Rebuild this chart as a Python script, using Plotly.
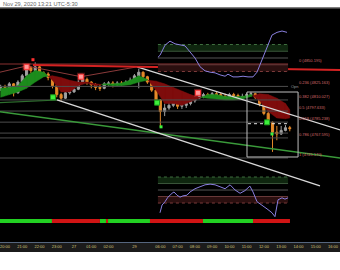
import plotly.graph_objects as go

# ---------------- data (time axis: hours since 20:00, trading-hour index) ----------------
TICK_VALS = [0, 1, 2, 3, 4, 5, 6, 7.5, 9, 10, 11, 12, 13, 14, 15, 16, 17, 18, 19]
TICK_TEXT = ["20:00", "21:00", "22:00", "23:00", "27", "01:00", "02:00", "29", "06:00",
             "07:00", "08:00", "09:00", "10:00", "11:00", "12:00", "13:00", "14:00", "15:00", "16:00"]

OPEN = [4822, 4824, 4823, 4828, 4818, 4830, 4837, 4846, 4843, 4847, 4840, 4839, 4835, 4826, 4816, 4812,
        4818, 4819, 4822, 4830, 4833, 4830, 4827, 4824, 4823, 4828, 4829, 4827, 4829, 4828, 4830, 4832,
        4837, 4841, 4836, 4830, 4821, 4810, 4797, 4801, 4804, 4808, 4803, 4804, 4806, 4809, 4812, 4814,
        4816, 4815, 4817, 4816, 4814, 4813, 4816, 4815, 4812, 4814, 4816, 4817, 4813, 4806, 4795, 4785,
        4774, 4772, 4776, 4779]
HIGH = [4827, 4827, 4830, 4829, 4832, 4839, 4849, 4848, 4852, 4848, 4842, 4841, 4836, 4827, 4818, 4820,
        4822, 4824, 4832, 4836, 4835, 4831, 4829, 4827, 4830, 4831, 4831, 4831, 4831, 4832, 4835, 4839,
        4845, 4842, 4837, 4831, 4822, 4811, 4806, 4808, 4810, 4809, 4807, 4808, 4811, 4814, 4819, 4818,
        4818, 4819, 4819, 4818, 4817, 4818, 4818, 4817, 4817, 4818, 4819, 4818, 4814, 4807, 4797, 4786,
        4781, 4781, 4782, 4781]
LOW = [4820, 4821, 4822, 4814, 4817, 4829, 4835, 4840, 4841, 4838, 4836, 4832, 4823, 4813, 4809, 4811,
       4816, 4818, 4821, 4828, 4827, 4823, 4821, 4820, 4822, 4826, 4824, 4826, 4826, 4827, 4829, 4831,
       4823, 4833, 4828, 4819, 4807, 4780, 4792, 4799, 4802, 4800, 4800, 4801, 4804, 4807, 4811, 4812,
       4813, 4813, 4813, 4812, 4811, 4812, 4813, 4810, 4811, 4812, 4814, 4811, 4803, 4793, 4783, 4752,
       4765, 4771, 4775, 4775]
CLOSE = [4824, 4823, 4828, 4818, 4830, 4837, 4846, 4843, 4847, 4840, 4839, 4835, 4826, 4816, 4812, 4818,
         4819, 4822, 4830, 4833, 4830, 4827, 4824, 4823, 4828, 4829, 4827, 4829, 4828, 4830, 4832, 4837,
         4841, 4836, 4830, 4821, 4810, 4797, 4801, 4804, 4808, 4803, 4804, 4806, 4809, 4812, 4814, 4816,
         4815, 4817, 4816, 4814, 4813, 4816, 4815, 4812, 4814, 4816, 4817, 4813, 4806, 4795, 4785, 4774,
         4772, 4776, 4779, 4778]
CANDLE_T = [-0.25 + 0.25 * i for i in range(len(CLOSE))]

RIBBON_T = [-0.25, 0.25, 0.75, 1.25, 1.75, 2.25, 2.75, 3.25, 3.75, 4.25, 4.75, 5.25, 5.75, 6.25, 6.75,
            7.25, 7.75, 8.25, 8.75, 9.25, 9.75, 10.25, 10.75, 11.25, 11.75, 12.25, 12.75, 13.25, 13.75,
            14.25, 14.75, 15.25, 15.75, 16.25, 16.5]
RIBBON_FAST = [4823, 4824, 4826, 4837, 4843, 4841, 4832, 4819, 4819, 4826, 4829, 4826, 4828, 4828, 4829,
               4832, 4837, 4833, 4821, 4806, 4806, 4804, 4808, 4812, 4816, 4816, 4814, 4814, 4814, 4816,
               4809, 4797, 4790, 4789, 4790]
RIBBON_SLOW = [4813, 4816, 4819, 4823, 4830, 4836, 4837, 4835, 4832, 4830, 4830, 4828, 4827, 4826, 4826,
               4827, 4830, 4832, 4831, 4828, 4824, 4820, 4816, 4813, 4812, 4811, 4810, 4810, 4811, 4814,
               4817, 4816, 4812, 4806, 4799]

FIB_RATIO = ["0", "0.236", "0.382", "0.5", "0.618", "0.786", "1"]
FIB_PRICE = [4850.195, 4825.163, 4810.027, 4797.633, 4785.238, 4767.595, 4745.170]
FIB_T = [-0.3, 16.4]
EXTRA_LEVEL_P = [4773]

RED_TREND_T, RED_TREND_P = [1.62, 19.5], [4849, 4843.5]
ZIGZAG_T, ZIGZAG_P = [-0.3, 1.25, 4.4, 7.65], [4841, 4848, 4836, 4847]
UP_WHITE_T, UP_WHITE_P = [7.65, 19.5], [4847, 4776]
LOW_WHITE_T, LOW_WHITE_P = [3.01, 18.25], [4810, 4714]
GREEN_LONG_T, GREEN_LONG_P = [-0.3, 19.5], [4797, 4745]
GREEN_SHORT_T, GREEN_SHORT_P = [-0.3, 3.07], [4807, 4810]

BOX_T, BOX_P = [14.02, 16.98], [4818.9, 4746.3]
DOTTED_T, DOTTED_P = [14.08, 16.4], [4783.5, 4783.5]

RED_SIG_T, RED_SIG_P = [1.25, 4.4, 11.18], [4847, 4836, 4818]
RED_DOT_T, RED_DOT_P = [1.62], [4855]
GREEN_SIG_T, GREEN_SIG_P = [2.78, 8.81, 15.18], [4813, 4807, 4785]
GREEN_DOT_T, GREEN_DOT_P = [9.04, 15.47], [4780, 4772]

OSC1_T = [8.86, 8.98, 9.27, 9.56, 9.85, 10.14, 10.43, 10.72, 11.01, 11.30, 11.59, 11.88, 12.17, 12.46,
          12.75, 12.92, 13.21, 13.50, 13.79, 14.08, 14.37, 14.60, 14.89, 15.18, 15.47, 15.76, 16.05, 16.34]
OSC1_V = [51, 54, 69, 75, 71, 69, 68, 59, 50, 37, 31, 29, 28, 25, 23, 26, 22, 22, 23, 22, 22, 29, 47, 66,
          84, 88, 90, 88]
OSC2_T = [8.98, 9.10, 9.27, 9.44, 9.68, 9.79, 9.97, 10.14, 10.31, 10.54, 10.72, 11.01, 11.30, 11.59, 11.88,
          12.17, 12.46, 12.75, 13.04, 13.33, 13.62, 13.90, 14.19, 14.37, 14.60, 14.89, 15.18, 15.47, 15.64,
          15.82, 16.05, 16.22, 16.40]
OSC2_V = [15, 27, 32, 39, 45, 47, 42, 39, 41, 42, 47, 52, 55, 58, 59, 58, 55, 52, 58, 50, 45, 49, 56, 47,
          32, 27, 21, 15, 9, 35, 38, 36, 38]
OSC_LEVELS = [70, 60, 50, 40, 30]
OSC_T = [8.86, 16.4]

TREND_START = [-0.3, 2.72, 5.50, 5.85, 5.97, 8.40, 11.47, 14.37]
TREND_END = [2.72, 5.50, 5.85, 5.97, 8.40, 11.47, 14.37, 16.51]
TREND_UP = [True, False, True, False, True, False, True, False]

# ---------------- figure ----------------
W, H = 340, 270
def py(px):
    return 1 - px / H

fig = go.Figure()

# ribbon polygons
gx, gy, rx, ry = [], [], [], []
for k in range(len(RIBBON_T) - 1):
    t0, t1 = RIBBON_T[k], RIBBON_T[k + 1]
    f0, f1 = RIBBON_FAST[k], RIBBON_FAST[k + 1]
    s0, s1 = RIBBON_SLOW[k], RIBBON_SLOW[k + 1]
    d0, d1 = f0 - s0, f1 - s1
    if d0 * d1 < 0:
        r = d0 / (d0 - d1)
        tc = t0 + r * (t1 - t0)
        yc = f0 + r * (f1 - f0)
        pieces = [((t0, f0, s0), (tc, yc, yc), d0), ((tc, yc, yc), (t1, f1, s1), d1)]
    else:
        pieces = [((t0, f0, s0), (t1, f1, s1), d0 if d0 != 0 else d1)]
    for a, b, d in pieces:
        xs = [a[0], b[0], b[0], a[0], a[0], None]
        ys = [a[1], b[1], b[2], a[2], a[1], None]
        if d >= 0:
            gx += xs; gy += ys
        else:
            rx += xs; ry += ys
fig.add_trace(go.Scatter(x=gx, y=gy, fill="toself", fillcolor="#1c8c1c", mode="lines",
                         line=dict(width=0.5, color="#1c8c1c"), hoverinfo="skip"))
fig.add_trace(go.Scatter(x=rx, y=ry, fill="toself", fillcolor="#7e0c0c", mode="lines",
                         line=dict(width=0.5, color="#7e0c0c"), hoverinfo="skip"))

# fib lines
for ratio, p in zip(FIB_RATIO, FIB_PRICE):
    col = "#8a3030" if ratio == "0" else "#4d4d4d"
    fig.add_trace(go.Scatter(x=FIB_T, y=[p, p], mode="lines", line=dict(color=col, width=1), hoverinfo="skip"))
for p in EXTRA_LEVEL_P:
    fig.add_trace(go.Scatter(x=FIB_T, y=[p, p], mode="lines", line=dict(color="#4d4d4d", width=1), hoverinfo="skip"))

# trend lines
def tline(t, p, color, width, dash=None):
    fig.add_trace(go.Scatter(x=t, y=p, mode="lines", line=dict(color=color, width=width, dash=dash),
                             hoverinfo="skip"))

tline(ZIGZAG_T, ZIGZAG_P, "#8a3a3a", 1)
tline(GREEN_SHORT_T, GREEN_SHORT_P, "#2e6e2e", 1.2)
tline(GREEN_LONG_T, GREEN_LONG_P, "#3a9a3a", 1.5)
tline(LOW_WHITE_T, LOW_WHITE_P, "#d8d8d8", 1.3)
tline(UP_WHITE_T, UP_WHITE_P, "#d8d8d8", 1.3)
tline(RED_TREND_T, RED_TREND_P, "#d42222", 2)

# candles
fig.add_trace(go.Candlestick(x=CANDLE_T, open=OPEN, high=HIGH, low=LOW, close=CLOSE,
                             increasing=dict(line=dict(color="#a0a0a0", width=1), fillcolor="#a0a0a0"),
                             decreasing=dict(line=dict(color="#e58a2a", width=1), fillcolor="#e58a2a"),
                             whiskerwidth=0, hoverinfo="skip"))

# box and dotted level
fig.add_trace(go.Scatter(x=[BOX_T[0], BOX_T[1], BOX_T[1], BOX_T[0], BOX_T[0]],
                         y=[BOX_P[0], BOX_P[0], BOX_P[1], BOX_P[1], BOX_P[0]],
                         mode="lines", line=dict(color="#bdbdbd", width=1), hoverinfo="skip"))
tline(DOTTED_T, DOTTED_P, "#e0e0e0", 1, "dot")

# signal markers
fig.add_trace(go.Scatter(x=RED_SIG_T, y=RED_SIG_P, mode="markers",
                         marker=dict(symbol="square", size=8, color="rgba(255,70,70,0.3)"), hoverinfo="skip"))
fig.add_trace(go.Scatter(x=RED_SIG_T, y=RED_SIG_P, mode="markers",
                         marker=dict(symbol="square", size=5, color="#ff9a9a", line=dict(color="#ff3a3a", width=1)),
                         hoverinfo="skip"))
fig.add_trace(go.Scatter(x=RED_DOT_T, y=RED_DOT_P, mode="markers",
                         marker=dict(symbol="square", size=3, color="#ff3030"), hoverinfo="skip"))
fig.add_trace(go.Scatter(x=GREEN_SIG_T, y=GREEN_SIG_P, mode="markers",
                         marker=dict(symbol="square", size=5, color="#3cf03c", line=dict(color="#1a9a1a", width=1)),
                         hoverinfo="skip"))
fig.add_trace(go.Scatter(x=GREEN_DOT_T, y=GREEN_DOT_P, mode="markers",
                         marker=dict(symbol="square", size=3, color="#3cf03c"), hoverinfo="skip"))

# oscillator panels
def osc_panel(xa, ya, t, v):
    lev_col = {70: "#3f6f3f", 60: "#3a553a", 50: "#555555", 40: "#6a3a3a", 30: "#7a3a3a"}
    fig.add_trace(go.Scatter(x=OSC_T + OSC_T[::-1], y=[70, 70, 60, 60], fill="toself", fillcolor="#0f260f",
                             mode="none", xaxis=xa, yaxis=ya, hoverinfo="skip"))
    fig.add_trace(go.Scatter(x=OSC_T + OSC_T[::-1], y=[40, 40, 30, 30], fill="toself", fillcolor="#2a0f0f",
                             mode="none", xaxis=xa, yaxis=ya, hoverinfo="skip"))
    for lv in OSC_LEVELS:
        dash = "dot" if lv in (70, 30) else None
        fig.add_trace(go.Scatter(x=OSC_T, y=[lv, lv], mode="lines", xaxis=xa, yaxis=ya,
                                 line=dict(color=lev_col[lv], width=1, dash=dash), hoverinfo="skip"))
    fig.add_trace(go.Scatter(x=t, y=v, mode="lines", xaxis=xa, yaxis=ya,
                             line=dict(color="#8a80e0", width=1), hoverinfo="skip"))

osc_panel("x2", "y2", OSC1_T, OSC1_V)
osc_panel("x3", "y3", OSC2_T, OSC2_V)

# trend state bar
for s, e, up in zip(TREND_START, TREND_END, TREND_UP):
    fig.add_trace(go.Scatter(x=[s, e], y=[0.5, 0.5], mode="lines", xaxis="x4", yaxis="y4",
                             line=dict(color="#22d022" if up else "#d01414", width=4), hoverinfo="skip"))

# annotations
ann = []
for ratio, p in zip(FIB_RATIO, FIB_PRICE):
    ann.append(dict(x=16.9, y=p, xref="x", yref="y", text=f"{ratio} ({p:.3f})", showarrow=False,
                    xanchor="left", yanchor="bottom", yshift=-1,
                    font=dict(size=4, color="#d46a6a", family="Liberation Sans")))
ann.append(dict(x=16.45, y=FIB_PRICE[1], xref="x", yref="y", text="Opn", showarrow=False,
                xanchor="left", yanchor="middle", font=dict(size=4, color="#9a9a9a", family="Liberation Sans")))
ann.append(dict(x=1 / W, y=py(3.8), xref="paper", yref="paper", text="Nov 29, 2020 13:21 UTC-5:30",
                showarrow=False, xanchor="left", yanchor="middle",
                font=dict(size=5.6, color="#666666", family="Liberation Sans")))

X0, X1 = -5 / 17.26, 335 / 17.26
shapes = [
    dict(type="rect", xref="paper", yref="paper", x0=0, x1=1, y0=py(242), y1=py(8),
         fillcolor="#000000", line=dict(width=0), layer="below"),
    dict(type="rect", xref="paper", yref="paper", x0=0, x1=1, y0=py(252), y1=py(242),
         fillcolor="#1b1b1b", line=dict(width=0), layer="below"),
    dict(type="line", xref="paper", yref="paper", x0=0, x1=1, y0=py(8), y1=py(8),
         line=dict(color="#555555", width=1.5)),
]

hidden = dict(visible=False, showgrid=False, zeroline=False)
fig.update_layout(
    width=W, height=H, margin=dict(l=0, r=0, t=0, b=0),
    paper_bgcolor="#ffffff", plot_bgcolor="rgba(0,0,0,0)", showlegend=False,
    xaxis=dict(domain=[0, 1], range=[X0, X1], anchor="y", tickmode="array", tickvals=TICK_VALS,
               ticktext=TICK_TEXT, tickfont=dict(size=4, color="#d6c47a", family="Liberation Sans"),
               ticklabeloverflow="allow",
               showgrid=False, zeroline=False, showline=True, linecolor="#56667e", linewidth=1,
               ticks="", rangeslider=dict(visible=False), fixedrange=True),
    yaxis=dict(domain=[py(242), py(8)], range=[4651.31, 4912.77], **hidden),
    xaxis2=dict(domain=[0, 1], range=[X0, X1], anchor="y2", **hidden),
    yaxis2=dict(domain=[py(90), py(20)], range=[2.6, 106.3], anchor="x2", **hidden),
    xaxis3=dict(domain=[0, 1], range=[X0, X1], anchor="y3", **hidden),
    yaxis3=dict(domain=[py(235), py(165)], range=[-19.2, 88.5], anchor="x3", **hidden),
    xaxis4=dict(domain=[0, 1], range=[X0, X1], anchor="y4", **hidden),
    yaxis4=dict(domain=[py(224), py(218)], range=[0, 1], anchor="x4", **hidden),
    annotations=ann, shapes=shapes,
)

fig.write_html("out.html")
